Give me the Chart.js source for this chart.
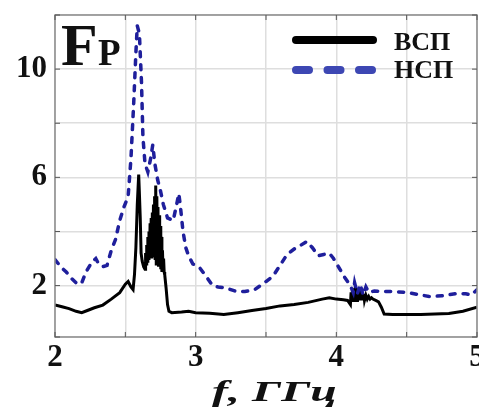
<!DOCTYPE html>
<html>
<head>
<meta charset="utf-8">
<script src="https://cdn.jsdelivr.net/npm/chart.js@4"></script>
<style>
  body { margin: 0; background: #fff; }
  canvas { display: block; }
</style>
</head>
<body>
<canvas id="fpChart" width="479" height="408"></canvas>
<script>
// series names
let seriesNames = ['ВСП', 'НСП'];

// ВСП (solid black)
let vspFreq = [2.00, 2.05, 2.10, 2.15, 2.19, 2.23, 2.28, 2.34, 2.40, 2.46, 2.50, 2.52, 2.54, 2.555, 2.565, 2.575, 2.585, 2.595,
  2.600, 2.606, 2.612, 2.620, 2.630,
  2.640, 2.644, 2.648, 2.652, 2.656, 2.660, 2.664, 2.668, 2.672, 2.676, 2.680, 2.684, 2.688, 2.692, 2.696, 2.700,
  2.704, 2.708, 2.712, 2.716, 2.720, 2.724, 2.728, 2.732, 2.736, 2.740, 2.744, 2.748, 2.752, 2.756, 2.760, 2.764,
  2.768, 2.772, 2.776, 2.780, 2.79, 2.80, 2.81, 2.83,
  2.90, 2.95, 3.00, 3.10, 3.20, 3.30, 3.40, 3.50, 3.60, 3.70, 3.80, 3.90, 3.95, 4.00, 4.05, 4.08,
  4.100, 4.105, 4.110, 4.115, 4.120, 4.125, 4.130, 4.135, 4.140, 4.145, 4.150, 4.155, 4.160, 4.165, 4.170, 4.175,
  4.180, 4.185, 4.190, 4.195, 4.200, 4.210, 4.220, 4.230, 4.240, 4.250, 4.260, 4.280, 4.300, 4.320, 4.340,
  4.40, 4.50, 4.60, 4.70, 4.80, 4.90, 5.00];
let vspVal = [1.28, 1.22, 1.15, 1.05, 1.00, 1.08, 1.18, 1.28, 1.50, 1.74, 2.05, 2.15, 1.95, 1.85, 2.4, 3.4, 5.0, 6.1,
  5.4, 4.5, 3.2, 2.9, 2.7,
  2.6, 3.2, 2.8, 3.5, 2.9, 3.8, 3.0, 4.0, 3.1, 4.3, 3.3, 4.5, 3.0, 4.7, 3.4, 5.0,
  3.1, 5.3, 3.0, 5.7, 2.8, 5.3, 2.9, 4.9, 2.7, 4.6, 2.8, 4.2, 2.6, 3.8, 2.5, 3.3,
  2.6, 3.0, 2.5, 2.4, 1.9, 1.3, 1.05, 1.00,
  1.02, 1.05, 1.00, 0.98, 0.93, 1.00, 1.08, 1.15, 1.25, 1.30, 1.38, 1.50, 1.55, 1.50, 1.48, 1.45,
  1.30, 1.75, 1.40, 1.90, 1.45, 1.85, 1.40, 1.95, 1.50, 1.80, 1.40, 1.90, 1.45, 1.85, 1.50, 1.80,
  1.45, 1.75, 1.50, 1.70, 1.45, 1.65, 1.50, 1.60, 1.50, 1.55, 1.50, 1.45, 1.40, 1.20, 0.95,
  0.93, 0.93, 0.93, 0.95, 0.97, 1.05, 1.2];

// НСП (dashed blue)
let nspFreq = [2.00, 2.04, 2.08, 2.12, 2.16, 2.19, 2.22, 2.26, 2.29, 2.31, 2.34, 2.37, 2.40, 2.43, 2.46, 2.49, 2.52, 2.54,
  2.56, 2.575, 2.585, 2.60, 2.615, 2.625, 2.64, 2.66, 2.68, 2.695, 2.71, 2.73, 2.75, 2.77, 2.80, 2.84, 2.865, 2.88, 2.89,
  2.91, 2.93, 2.95, 2.98, 3.03, 3.08, 3.12, 3.16, 3.22, 3.28, 3.35, 3.42, 3.46, 3.50, 3.55, 3.60, 3.65, 3.70, 3.75, 3.79,
  3.83, 3.87, 3.91, 3.95, 3.98, 4.02, 4.06, 4.10, 4.12, 4.13, 4.15, 4.17, 4.19, 4.21, 4.23, 4.27, 4.33, 4.40, 4.50, 4.60,
  4.66, 4.75, 4.85, 4.92, 4.96, 5.00];
let nspVal = [2.96, 2.7, 2.5, 2.25, 2.05, 2.1, 2.5, 2.85, 3.0, 2.8, 2.7, 2.75, 3.3, 3.7, 4.4, 4.9, 5.3, 6.7,
  8.8, 10.6, 11.6, 11.3, 9.5, 7.5, 6.5, 6.2, 6.7, 7.2, 6.5, 5.9, 5.5, 5.0, 4.5, 4.4, 5.0, 5.4, 5.0,
  4.0, 3.4, 3.1, 2.8, 2.65, 2.3, 2.0, 1.95, 1.9, 1.8, 1.78, 1.85, 2.0, 2.15, 2.35, 2.75, 3.15, 3.35, 3.5, 3.63,
  3.4, 3.1, 3.15, 3.2, 3.0, 2.65, 2.3, 2.0, 1.75, 2.1, 1.7, 2.05, 1.65, 1.95, 1.75, 1.8, 1.78, 1.78, 1.75, 1.65,
  1.6, 1.62, 1.7, 1.7, 1.65, 1.85];

// axis ticks
let xTickLabels = [2, 3, 4, 5];
let yTickLabels = [2, 6, 10];

const serif = "'Liberation Serif', 'Times New Roman', serif";
const plotBlue = '#1f1f9c';
const legendBlue = '#3d47b3';

function toPoints(xs, ys) {
  return xs.map((x, i) => ({ x: x, y: ys[i] }));
}

// box, inner tick marks, Fp label, legend and axis title
const decorations = {
  id: 'decorations',
  afterDraw(chart) {
    const c = chart.ctx;
    const a = chart.chartArea;
    const xs = chart.scales.x;
    const ys = chart.scales.y;
    c.save();

    c.strokeStyle = '#8c8c8c';
    c.lineWidth = 1.5;
    c.strokeRect(a.left, a.top, a.right - a.left, a.bottom - a.top);

    c.strokeStyle = '#555';
    c.lineWidth = 1;
    xs.ticks.forEach(t => {
      const px = xs.getPixelForValue(t.value);
      c.beginPath();
      c.moveTo(px, a.bottom); c.lineTo(px, a.bottom - 5);
      c.moveTo(px, a.top); c.lineTo(px, a.top + 5);
      c.stroke();
    });
    ys.ticks.forEach(t => {
      const py = ys.getPixelForValue(t.value);
      c.beginPath();
      c.moveTo(a.left, py); c.lineTo(a.left + 5, py);
      c.moveTo(a.right, py); c.lineTo(a.right - 5, py);
      c.stroke();
    });

    // F_P
    c.fillStyle = '#111';
    c.textBaseline = 'alphabetic';
    c.textAlign = 'left';
    c.font = 'bold 60px ' + serif;
    c.fillText('F', a.left + 6, 65);
    c.font = 'bold 37px ' + serif;
    c.fillText('P', a.left + 43, 65);

    // legend
    c.lineCap = 'round';
    c.lineWidth = 8;
    c.strokeStyle = '#000';
    c.beginPath(); c.moveTo(296, 40); c.lineTo(373, 40); c.stroke();
    c.strokeStyle = legendBlue;
    c.setLineDash([13, 18.5]);
    c.beginPath(); c.moveTo(296, 70); c.lineTo(373, 70); c.stroke();
    c.setLineDash([]);
    c.font = 'bold 26px ' + serif;
    c.fillText(seriesNames[0], 394, 50);
    c.fillText(seriesNames[1], 394, 78);

    // x axis title
    const title = 'f, ГГц';
    c.font = 'bold italic 30px ' + serif;
    const w = c.measureText(title).width;
    c.translate(212, 401);
    c.scale(125 / w, 1);
    c.fillText(title, 0, 0);
    c.restore();
  }
};

let ctx = document.getElementById('fpChart').getContext('2d');

let fpChart = new Chart(ctx, {
  type: 'line',
  data: {
    datasets: [{
      label: seriesNames[1],
      data: toPoints(nspFreq, nspVal),
      borderColor: plotBlue,
      borderWidth: 3.5,
      borderDash: [5, 8],
      borderCapStyle: 'round',
      pointRadius: 0,
      tension: 0,
      fill: false
    }, {
      label: seriesNames[0],
      data: toPoints(vspFreq, vspVal),
      borderColor: '#000',
      borderWidth: 3,
      pointRadius: 0,
      tension: 0,
      fill: false
    }]
  },
  options: {
    responsive: false,
    animation: false,
    layout: { padding: { top: 15, right: 2, left: 0, bottom: 0 } },
    plugins: {
      legend: { display: false },
      tooltip: { enabled: false }
    },
    scales: {
      x: {
        type: 'linear',
        min: 2,
        max: 5,
        grid: { color: '#dedede', lineWidth: 1.5, drawTicks: false },
        border: { display: false },
        ticks: {
          stepSize: 0.5,
          autoSkip: false,
          maxRotation: 0,
          padding: 2,
          color: '#111',
          font: { family: serif, weight: 'bold', size: 31 },
          callback: (v) => xTickLabels.includes(v) ? String(v) : ''
        },
        afterFit: (s) => { s.height = 71; s.paddingLeft = 0; s.paddingRight = 0; }
      },
      y: {
        type: 'linear',
        min: 0.1,
        max: 12,
        grid: { color: '#dedede', lineWidth: 1.5, drawTicks: false },
        border: { display: false },
        ticks: {
          stepSize: 2,
          autoSkip: false,
          padding: 8,
          color: '#111',
          font: { family: serif, weight: 'bold', size: 31 },
          callback: (v) => yTickLabels.includes(v) ? String(v) : ''
        },
        afterFit: (s) => { s.width = 55; s.paddingTop = 0; s.paddingBottom = 0; }
      }
    }
  },
  plugins: [decorations]
});
</script>
</body>
</html>
